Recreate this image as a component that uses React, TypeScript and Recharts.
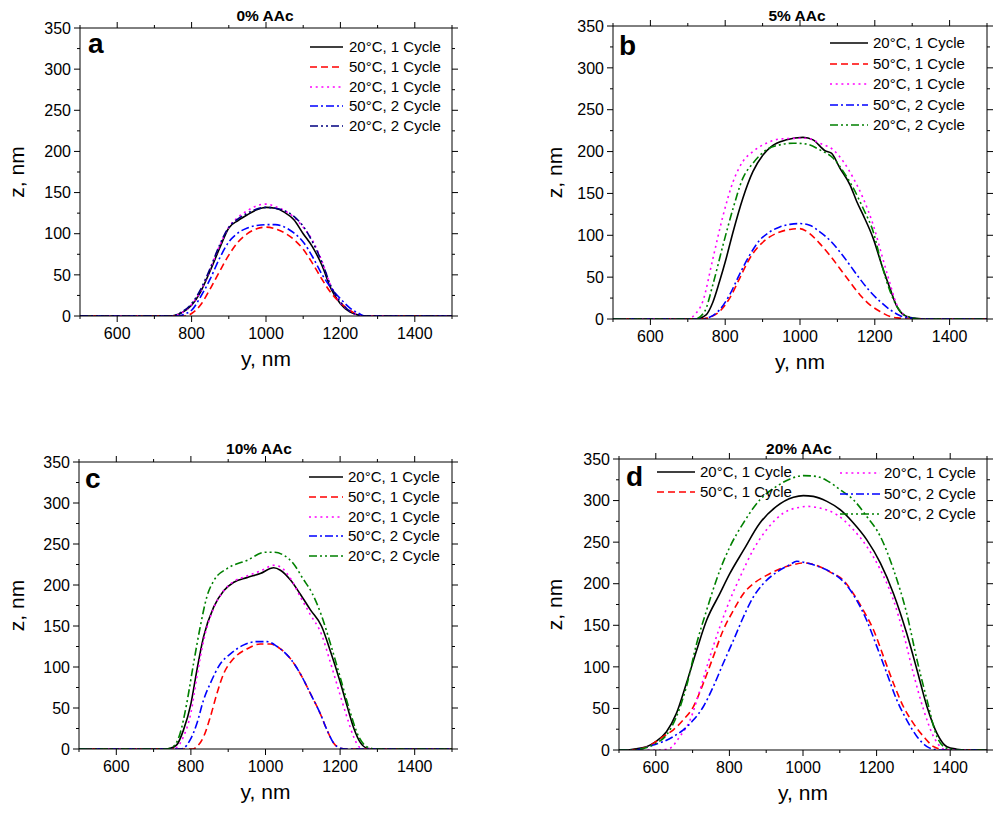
import React from "react";
import { LineChart, Line, XAxis, YAxis, Legend } from "recharts";

type Pt = [number, number];

const FONT = '"Liberation Sans", Arial, Helvetica, sans-serif';

const xTicks = [500, 600, 700, 800, 900, 1000, 1100, 1200, 1300, 1400, 1500];
const yTicks = [0, 25, 50, 75, 100, 125, 150, 175, 200, 225, 250, 275, 300, 325, 350];
const seriesNames = ["20°C, 1 Cycle", "50°C, 1 Cycle", "20°C, 1 Cycle", "50°C, 2 Cycle", "20°C, 2 Cycle"];
const titles = ["0% AAc", "5% AAc", "10% AAc", "20% AAc"];
const letters = ["a", "b", "c", "d"];

// 0% AAc  [y nm, z nm]
const a20c1: Pt[] = [[500,0],[745,0],[770,3],[800,13],[825,30],[850,55],[875,82],[900,107],[925,116],[950,123],[975,129],[1000,132],[1025,131],[1050,126],[1075,117],[1100,100],[1125,84],[1150,62],[1175,33],[1200,15],[1225,5],[1250,1],[1265,0],[1500,0]];
const a50c1: Pt[] = [[500,0],[785,0],[800,3],[825,14],[850,33],[875,54],[900,74],[925,90],[950,100],[975,106],[1000,108],[1025,106],[1050,101],[1075,93],[1100,81],[1125,64],[1150,45],[1175,28],[1200,16],[1225,7],[1250,1],[1265,0],[1500,0]];
const a20c1b: Pt[] = [[500,0],[745,0],[770,3],[800,14],[825,31],[850,57],[875,85],[900,108],[925,120],[950,128],[975,134],[1000,136],[1025,133],[1050,128],[1075,120],[1100,108],[1125,92],[1150,67],[1175,36],[1200,16],[1225,6],[1250,1],[1270,0],[1500,0]];
const a50c2: Pt[] = [[500,0],[765,0],[785,3],[800,7],[825,24],[850,45],[875,70],[900,90],[925,101],[950,107],[975,110],[1000,111],[1025,111],[1050,108],[1075,101],[1100,90],[1125,72],[1150,51],[1175,34],[1200,21],[1225,10],[1250,3],[1265,0],[1500,0]];
const a20c2: Pt[] = [[500,0],[745,0],[770,4],[800,15],[825,33],[850,58],[875,86],[900,108],[925,118],[950,125],[975,130],[1000,132],[1025,131],[1050,128],[1075,121],[1100,109],[1125,90],[1150,66],[1175,36],[1200,17],[1225,6],[1250,1],[1270,0],[1500,0]];

// 5% AAc
const b20c1: Pt[] = [[500,0],[720,0],[749,5],[767,20],[785,45],[800,68],[821,104],[847,144],[874,176],[901,196],[923,206],[964,214],[1008,217],[1035,214],[1067,201],[1084,198],[1107,180],[1134,160],[1152,140],[1169,124],[1196,96],[1219,64],[1241,36],[1259,15],[1277,5],[1304,1],[1330,0],[1500,0]];
const b50c1: Pt[] = [[500,0],[735,0],[758,2],[785,9],[812,25],[838,48],[865,72],[892,88],[919,98],[946,104],[973,107],[999,108],[1026,102],[1053,90],[1080,76],[1107,60],[1134,44],[1160,29],[1187,17],[1214,9],[1241,3],[1268,1],[1290,0],[1500,0]];
const b20c1b: Pt[] = [[500,0],[700,0],[720,6],[740,21],[767,72],[794,123],[821,164],[847,188],[874,200],[910,210],[946,215],[1017,216],[1053,210],[1089,202],[1116,188],[1143,168],[1169,144],[1196,112],[1219,76],[1237,48],[1259,17],[1286,3],[1310,0],[1500,0]];
const b50c2: Pt[] = [[500,0],[735,0],[758,2],[785,11],[812,29],[838,53],[865,76],[892,94],[919,104],[946,110],[973,113],[999,114],[1026,112],[1053,104],[1080,94],[1107,80],[1134,64],[1160,48],[1187,33],[1214,21],[1241,11],[1268,4],[1295,1],[1320,0],[1500,0]];
const b20c2: Pt[] = [[500,0],[720,0],[745,9],[767,41],[794,88],[821,132],[847,168],[874,186],[910,202],[946,208],[982,210],[1017,209],[1053,202],[1089,192],[1116,176],[1143,156],[1169,132],[1196,104],[1219,64],[1241,33],[1268,9],[1295,2],[1320,0],[1500,0]];

// 10% AAc
const c20c1: Pt[] = [[500,0],[730,0],[745,1],[762,5],[780,23],[800,55],[816,96],[834,137],[861,173],[888,193],[914,203],[950,209],[986,214],[1022,221],[1040,218],[1067,206],[1093,189],[1120,170],[1150,150],[1175,118],[1200,82],[1219,52],[1237,25],[1254,8],[1272,1],[1290,0],[1500,0]];
const c50c1: Pt[] = [[500,0],[805,0],[816,3],[834,15],[852,39],[870,68],[888,92],[914,110],[950,122],[986,128],[1013,128],[1040,122],[1067,110],[1093,92],[1120,68],[1147,43],[1165,23],[1183,7],[1201,1],[1215,0],[1500,0]];
const c20c1b: Pt[] = [[500,0],[745,0],[762,2],[780,15],[800,44],[816,88],[834,132],[861,172],[888,193],[914,204],[950,211],[986,217],[1022,224],[1040,222],[1067,208],[1093,186],[1120,164],[1150,140],[1175,104],[1200,66],[1219,38],[1237,14],[1250,3],[1262,0],[1500,0]];
const c50c2: Pt[] = [[500,0],[770,0],[780,1],[798,11],[816,31],[834,60],[852,80],[879,104],[906,116],[942,127],[978,131],[1004,131],[1031,125],[1067,110],[1093,92],[1120,68],[1147,43],[1165,23],[1183,7],[1201,1],[1215,0],[1500,0]];
const c20c2: Pt[] = [[500,0],[735,0],[753,3],[771,19],[789,56],[807,104],[825,149],[843,186],[861,205],[897,220],[950,230],[1000,240],[1025,240],[1050,236],[1075,226],[1100,208],[1125,190],[1150,163],[1175,127],[1200,88],[1225,48],[1250,15],[1275,2],[1295,0],[1500,0]];

// 20% AAc
const d20c1: Pt[] = [[500,0],[520,0],[538,1],[575,4],[600,10],[629,22],[656,44],[683,80],[711,120],[738,156],[774,188],[801,212],[838,240],[883,273],[928,293],[974,304],[1001,306],[1028,305],[1065,299],[1101,289],[1137,273],[1173,253],[1210,225],[1246,188],[1282,140],[1310,96],[1337,52],[1364,20],[1391,4],[1418,1],[1440,0],[1500,0]];
const d50c1: Pt[] = [[500,0],[535,0],[556,1],[593,8],[620,16],[647,24],[674,36],[702,52],[729,80],[756,112],[783,144],[811,168],[838,188],[865,200],[901,210],[938,218],[974,223],[1001,225],[1037,222],[1074,214],[1110,204],[1137,188],[1164,168],[1192,144],[1219,112],[1246,80],[1273,52],[1300,32],[1328,16],[1355,4],[1373,1],[1390,0],[1500,0]];
const d20c1b: Pt[] = [[500,0],[610,0],[638,2],[665,16],[693,36],[720,72],[747,112],[774,148],[801,180],[829,208],[865,241],[901,265],[947,285],[992,292],[1010,293],[1046,291],[1092,283],[1137,265],[1173,245],[1210,217],[1246,180],[1273,140],[1300,92],[1328,48],[1355,16],[1373,4],[1390,0],[1500,0]];
const d50c2: Pt[] = [[500,0],[535,0],[556,1],[593,6],[620,10],[647,16],[674,24],[702,36],[729,52],[756,76],[783,104],[811,132],[838,160],[865,184],[892,200],[929,214],[965,223],[983,227],[1010,225],[1046,220],[1083,212],[1119,198],[1146,180],[1173,156],[1201,124],[1228,92],[1255,60],[1282,36],[1310,16],[1337,4],[1355,1],[1370,0],[1500,0]];
const d20c2: Pt[] = [[500,0],[540,0],[575,3],[600,8],[629,18],[656,40],[683,76],[711,128],[738,168],[774,216],[801,244],[838,273],[883,301],[928,317],[965,326],[1001,330],[1037,329],[1065,324],[1101,313],[1137,301],[1173,281],[1210,257],[1246,217],[1282,164],[1310,108],[1337,60],[1364,16],[1391,2],[1420,0],[1500,0]];

const lineStyles = [
  { stroke: "#000000", dash: undefined as string | undefined },
  { stroke: "#ff0000", dash: "7 4" },
  { stroke: "#ff00ff", dash: "2 3.7" },
  { stroke: "#0000ff", dash: "8 3 2 3" },
  { stroke: "#008000", dash: "8 3 2 3 2 3" },
];

type LegendCol = { x: number; y: number; len: number; gap: number; rowH: number; items: number[] };

const panels = [
  {
    box: [0, 0, 500, 408], plot: [80, 28, 452, 316], series: [a20c1, a50c1, a20c1b, a50c2, a20c2],
    lastColor: "#000080", yLabelX: 17, title: [265, 21], letter: [88, 53],
    legend: [{ x: 310, y: 37, len: 33, gap: 6, rowH: 19.75, items: [0, 1, 2, 3, 4] }] as LegendCol[],
  },
  {
    box: [500, 0, 500, 408], plot: [613, 26, 987, 319], series: [b20c1, b50c1, b20c1b, b50c2, b20c2],
    lastColor: "#008000", yLabelX: 55, title: [797, 21], letter: [619, 55],
    legend: [{ x: 830, y: 33, len: 38, gap: 5, rowH: 20.6, items: [0, 1, 2, 3, 4] }] as LegendCol[],
  },
  {
    box: [0, 408, 500, 409], plot: [79, 462, 452, 749], series: [c20c1, c50c1, c20c1b, c50c2, c20c2],
    lastColor: "#008000", yLabelX: 17, title: [259, 454], letter: [85, 488],
    legend: [{ x: 309, y: 467, len: 34, gap: 5, rowH: 19.8, items: [0, 1, 2, 3, 4] }] as LegendCol[],
  },
  {
    box: [500, 408, 500, 409], plot: [619, 459, 987, 750], series: [d20c1, d50c1, d20c1b, d50c2, d20c2],
    lastColor: "#008000", yLabelX: 55, title: [799, 454], letter: [626, 486],
    legend: [
      { x: 657, y: 462, len: 38, gap: 5, rowH: 20, items: [0, 1] },
      { x: 840, y: 463, len: 40, gap: 4, rowH: 20.5, items: [2, 3, 4] },
    ] as LegendCol[],
  },
];

const xTick = (side: "bottom" | "top") => (props: any) => {
  const { x, y, payload } = props;
  const v = payload.value;
  const major = v % 200 === 0;
  const dir = side === "bottom" ? 1 : -1;
  return (
    <g>
      <line x1={x} x2={x} y1={y} y2={y + dir * (major ? 6 : 3)} stroke="#000" strokeWidth={1} />
      {side === "bottom" && major && (
        <text x={x} y={y + 12} dy="0.71em" textAnchor="middle" fontSize={16} fontFamily={FONT} fill="#000">
          {v}
        </text>
      )}
    </g>
  );
};

const yTick = (side: "left" | "right") => (props: any) => {
  const { x, y, payload } = props;
  const v = payload.value;
  const major = v % 50 === 0;
  const dir = side === "left" ? -1 : 1;
  return (
    <g>
      <line x1={x} x2={x + dir * (major ? 6 : 3)} y1={y} y2={y} stroke="#000" strokeWidth={1} />
      {side === "left" && major && (
        <text x={x - 9} y={y} dy="0.36em" textAnchor="end" fontSize={16} fontFamily={FONT} fill="#000">
          {v}
        </text>
      )}
    </g>
  );
};

function Panel({ idx }: { idx: number }) {
  const p = panels[idx];
  const [bx, by, bw, bh] = p.box;
  const [pl, pt, pr, pb] = p.plot;
  const hB = by + bh - pb;
  const colorOf = (i: number) => (i === 4 ? p.lastColor : lineStyles[i].stroke);

  const legendContent = () => (
    <div style={{ position: "relative" }}>
      {p.legend.map((col, ci) =>
        col.items.map((si, r) => (
          <div
            key={`${ci}-${r}`}
            style={{
              position: "absolute",
              left: col.x - bx,
              top: col.y - by + r * col.rowH,
              height: 20,
              display: "flex",
              alignItems: "center",
              whiteSpace: "nowrap",
            }}
          >
            <svg width={col.len} height={20}>
              <line x1={0} y1={10} x2={col.len} y2={10} stroke={colorOf(si)} strokeWidth={1.6} strokeDasharray={lineStyles[si].dash} />
            </svg>
            <span style={{ marginLeft: col.gap, fontSize: 15, fontFamily: FONT, lineHeight: "20px", color: "#000" }}>
              {seriesNames[si]}
            </span>
          </div>
        ))
      )}
    </div>
  );

  // the first series is bound to the top/right axes (same domains) so the frame axes get drawn
  return (
    <div style={{ position: "absolute", left: bx, top: by, width: bw, height: bh }}>
      <LineChart width={bw} height={bh} margin={{ top: pt - by - 1, right: bx + bw - pr - 1, bottom: 0, left: 0 }}>
        <XAxis
          xAxisId="x"
          dataKey="x"
          type="number"
          domain={[500, 1500]}
          allowDataOverflow
          ticks={xTicks}
          interval={0}
          height={hB}
          stroke="#000"
          tickLine={false}
          tickSize={0}
          tickMargin={0}
          tick={xTick("bottom")}
          label={{ value: "y, nm", position: "insideBottom", offset: hB - 50, fill: "#000", fontSize: 21, fontFamily: FONT }}
        />
        <XAxis
          xAxisId="top"
          orientation="top"
          dataKey="x"
          type="number"
          domain={[500, 1500]}
          allowDataOverflow
          ticks={xTicks}
          interval={0}
          height={1}
          stroke="#000"
          tickLine={false}
          tickSize={0}
          tickMargin={0}
          tick={xTick("top")}
        />
        <YAxis
          yAxisId="y"
          type="number"
          domain={[0, 350]}
          allowDataOverflow
          ticks={yTicks}
          interval={0}
          width={pl - bx}
          stroke="#000"
          tickLine={false}
          tickSize={0}
          tickMargin={0}
          tick={yTick("left")}
          label={{
            value: "z, nm",
            angle: -90,
            position: "insideLeft",
            offset: p.yLabelX,
            fill: "#000",
            fontSize: 21,
            fontFamily: FONT,
            style: { textAnchor: "middle" },
          }}
        />
        <YAxis
          yAxisId="right"
          orientation="right"
          type="number"
          domain={[0, 350]}
          allowDataOverflow
          ticks={yTicks}
          interval={0}
          width={1}
          stroke="#000"
          tickLine={false}
          tickSize={0}
          tickMargin={0}
          tick={yTick("right")}
        />
        {p.series.map((pts, i) => (
          <Line
            key={i}
            xAxisId={i === 0 ? "top" : "x"}
            yAxisId={i === 0 ? "right" : "y"}
            data={pts.map(([x, z]) => ({ x, z }))}
            dataKey="z"
            name={seriesNames[i]}
            type="monotone"
            stroke={colorOf(i)}
            strokeWidth={1.6}
            strokeDasharray={lineStyles[i].dash}
            dot={false}
            activeDot={false}
            isAnimationActive={false}
          />
        ))}
        <Legend layout="vertical" align="center" verticalAlign="middle" wrapperStyle={{ left: 0, top: 0 }} content={legendContent} />
      </LineChart>
      <svg width={bw} height={bh} style={{ position: "absolute", left: 0, top: 0, pointerEvents: "none" }}>
        <text x={p.title[0] - bx} y={p.title[1] - by} textAnchor="middle" fontWeight="bold" fontSize={15.5} fontFamily={FONT} fill="#000">
          {titles[idx]}
        </text>
        <text x={p.letter[0] - bx} y={p.letter[1] - by} fontWeight="bold" fontSize={28} fontFamily={FONT} fill="#000">
          {letters[idx]}
        </text>
      </svg>
    </div>
  );
}

export default function App() {
  return (
    <div style={{ position: "absolute", left: 0, top: 0, width: 1000, height: 817, background: "#fff" }}>
      {panels.map((_, i) => (
        <Panel key={i} idx={i} />
      ))}
    </div>
  );
}
